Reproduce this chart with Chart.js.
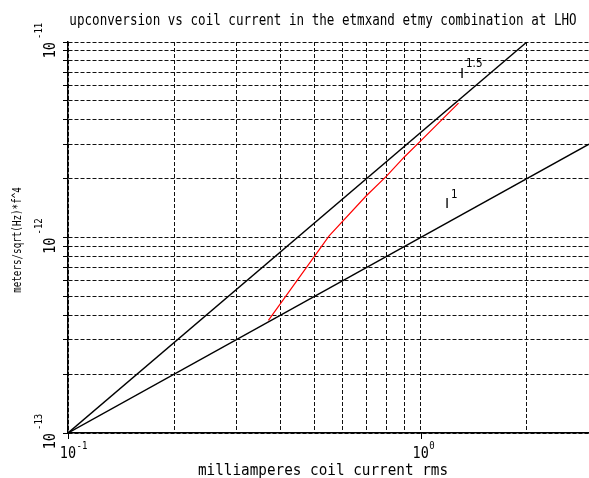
<!DOCTYPE html>
<html>
<head>
<meta charset="utf-8">
<script src="https://cdn.jsdelivr.net/npm/chart.js@4/dist/chart.umd.min.js"></script>
<style>
  body { margin: 0; background: #fff; }
  canvas { display: block; }
</style>
</head>
<body>
<canvas id="chart" width="589" height="478"></canvas>
<script>
// coil current (mA rms) vs upconversion, LHO etmx+etmy
const measuredCurrent = [0.37, 0.55, 0.70, 0.80, 0.90, 1.00, 1.28];
const measuredUpconv = [3.77e-13, 1.02e-12, 1.63e-12, 2.06e-12, 2.59e-12, 3.12e-12, 4.87e-12];

// reference power laws
const pow15Current = [0.1, 2];
const pow15Upconv = [1e-13, 1e-11];
const pow1Current = [0.1, 3];
const pow1Upconv = [1e-13, 3e-12];

// grid / tick positions
const xGrid = [0.1, 0.2, 0.3, 0.4, 0.5, 0.6, 0.7, 0.8, 0.9, 1, 2];
const yGrid = [1e-13, 2e-13, 3e-13, 4e-13, 5e-13, 6e-13, 7e-13, 8e-13, 9e-13,
               1e-12, 2e-12, 3e-12, 4e-12, 5e-12, 6e-12, 7e-12, 8e-12, 9e-12, 1e-11];
const xMajor = [0.1, 1];
const xMajorExp = ["-1", "0"];
const yMajor = [1e-13, 1e-12, 1e-11];
const yMajorExp = ["-13", "-12", "-11"];

const titleText = "upconversion vs coil current in the etmxand etmy combination at LHO";
const xTitle = "milliamperes coil current rms";
const yTitle = "meters/sqrt(Hz)*f^4";

const toPoints = (xs, ys) => xs.map((x, i) => ({ x: x, y: ys[i] }));

function put(ctx, text, x, y, size, sx, align, rot, family) {
  ctx.save();
  ctx.translate(x, y);
  if (rot) ctx.rotate(rot);
  ctx.scale(sx, 1);
  ctx.font = size + "px " + (family || '"DejaVu Sans Mono"');
  ctx.textAlign = align;
  ctx.textBaseline = "alphabetic";
  ctx.fillStyle = "#000";
  ctx.fillText(text, 0, 0);
  ctx.restore();
}

const textPlugin = {
  id: "texts",
  afterDraw(chart) {
    const ctx = chart.ctx;
    const xs = chart.scales.x, ys = chart.scales.y;
    const bottom = chart.chartArea.bottom;

    put(ctx, titleText, 323, 25, 16, 0.786, "center");
    put(ctx, xTitle, 323, 475, 16, 0.895, "center");
    put(ctx, yTitle, 21, 240, 12, 0.77, "center", -Math.PI / 2);

    // x major ticks + labels
    xMajor.forEach((v, i) => {
      const px = xs.getPixelForValue(v);
      ctx.save();
      ctx.strokeStyle = "#000";
      ctx.lineWidth = 1;
      ctx.beginPath();
      ctx.moveTo(Math.round(px) + 0.5, bottom);
      ctx.lineTo(Math.round(px) + 0.5, bottom + 6);
      ctx.stroke();
      ctx.restore();
      put(ctx, "10", px, 458, 15, 0.9, "center");
      put(ctx, xMajorExp[i], px + 8.5, 449, 10, 0.9, "left");
    });

    // y major labels (rotated)
    yMajor.forEach((v, i) => {
      const py = ys.getPixelForValue(v);
      put(ctx, "10", 55, py, 15, 0.9, "right", -Math.PI / 2);
      put(ctx, yMajorExp[i], 42, py - 3, 10, 0.9, "left", -Math.PI / 2);
    });

    // power law annotations
    put(ctx, "I", 462, 78, 14, 1, "center", 0, '"DejaVu Sans"');
    put(ctx, "1.5", 466, 67, 13, 0.8, "left", 0, '"DejaVu Sans"');
    put(ctx, "I", 447, 208, 14, 1, "center", 0, '"DejaVu Sans"');
    put(ctx, "1", 451, 198, 13, 0.8, "left", 0, '"DejaVu Sans"');
  }
};

new Chart(document.getElementById("chart").getContext("2d"), {
  type: "line",
  data: {
    datasets: [
      {
        data: toPoints(pow15Current, pow15Upconv),
        borderColor: "#000",
        borderWidth: 1.4,
        pointRadius: 0,
        tension: 0
      },
      {
        data: toPoints(pow1Current, pow1Upconv),
        borderColor: "#000",
        borderWidth: 1.4,
        pointRadius: 0,
        tension: 0
      },
      {
        data: toPoints(measuredCurrent, measuredUpconv),
        borderColor: "#ff0000",
        borderWidth: 1.2,
        pointRadius: 0,
        tension: 0
      }
    ]
  },
  options: {
    responsive: false,
    animation: false,
    layout: { padding: { top: 42, left: 0, right: 0, bottom: 0 } },
    plugins: {
      legend: { display: false },
      title: { display: false },
      tooltip: { enabled: false }
    },
    scales: {
      x: {
        type: "logarithmic",
        min: 0.1,
        max: 3,
        afterBuildTicks: (s) => { s.ticks = xGrid.map(v => ({ value: v })); },
        afterFit: (s) => { s.height = 45; },
        ticks: { display: false },
        grid: { color: "#111", lineWidth: 1, drawTicks: false },
        border: { display: true, color: "#000", width: 1.5, dash: [4, 2] }
      },
      y: {
        type: "logarithmic",
        min: 1e-13,
        max: 1e-11,
        afterBuildTicks: (s) => { s.ticks = yGrid.map(v => ({ value: v })); },
        afterFit: (s) => { s.width = 68; },
        ticks: { display: false },
        grid: { color: "#111", lineWidth: 1, drawTicks: true, tickLength: 5, tickColor: "#000" },
        border: { display: true, color: "#000", width: 1.5, dash: [4, 2] }
      }
    }
  },
  plugins: [textPlugin]
});
</script>
</body>
</html>
